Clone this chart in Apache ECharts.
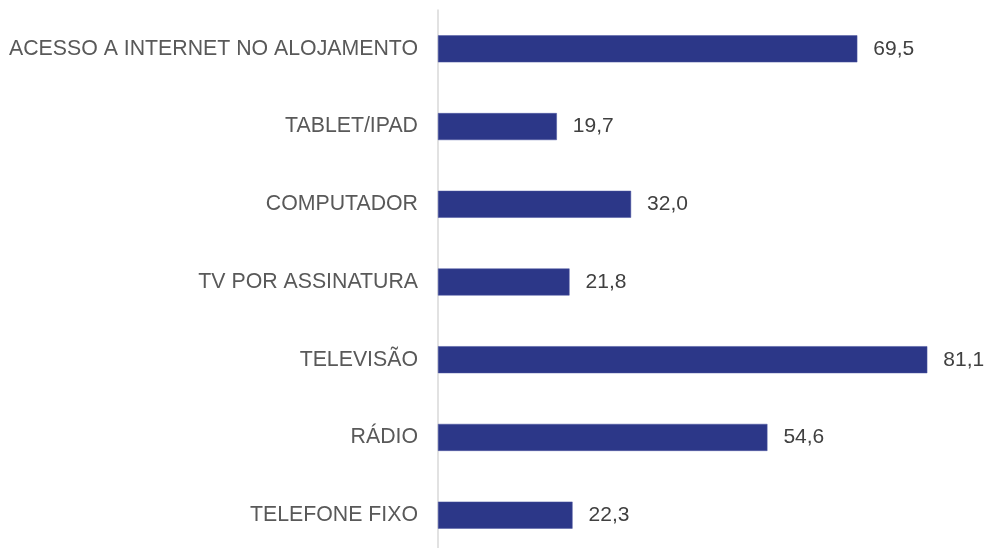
<!DOCTYPE html>
<html>
<head>
<meta charset="utf-8">
<script src="https://cdn.jsdelivr.net/npm/echarts@6/dist/echarts.min.js"></script>
<style>
html,body{margin:0;padding:0;background:#fff;overflow:hidden;width:984px;height:548px;}
#chart{width:984px;height:554px;}
</style>
</head>
<body>
<div id="chart"></div>
<script>
const categories = ["ACESSO A INTERNET NO ALOJAMENTO", "TABLET/IPAD", "COMPUTADOR", "TV POR ASSINATURA", "TELEVISÃO", "RÁDIO", "TELEFONE FIXO"];
const values = [69.5, 19.7, 32.0, 21.8, 81.1, 54.6, 22.3];

const chart = echarts.init(document.getElementById('chart'), null, {renderer: 'canvas'});
chart.setOption({
  animation: false,
  backgroundColor: '#ffffff',
  grid: {left: 438, right: 3, top: 10, bottom: 0, containLabel: false},
  xAxis: {
    type: 'value', min: 0, max: 90,
    show: false
  },
  yAxis: {
    type: 'category',
    data: categories,
    inverse: true,
    axisLine: {show: true, lineStyle: {color: '#D9D9D9', width: 1.5}},
    axisTick: {show: false},
    axisLabel: {
      margin: 20,
      fontSize: 21.3,
      color: '#595959',
      fontFamily: '"Liberation Sans", Arial, sans-serif'
    }
  },
  series: [{
    type: 'bar',
    data: values,
    barWidth: 27,
    itemStyle: {color: '#2C3788', borderColor: '#4A55A0', borderWidth: 0.5},
    label: {
      show: true,
      position: 'right',
      distance: 16,
      fontSize: 21,
      color: '#404040',
      fontFamily: '"Liberation Sans", Arial, sans-serif',
      formatter: p => p.value.toFixed(1).replace('.', ',')
    }
  }]
});
</script>
</body>
</html>
